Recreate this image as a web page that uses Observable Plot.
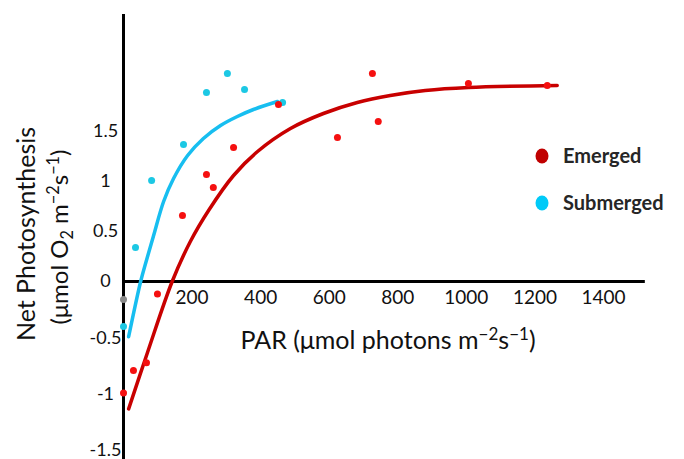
<!DOCTYPE html>
<html><head><meta charset="utf-8">
<script src="https://cdn.jsdelivr.net/npm/d3@7"></script>
<script src="https://cdn.jsdelivr.net/npm/@observablehq/plot@0.6"></script>
<style>body{margin:0;background:#fff;} svg{display:block}</style>
</head><body><div id="chart"></div>
<script>
// Measured points
const emergedPAR = [0, 29, 67, 99, 172, 242, 262, 321, 452, 624, 726, 743, 1006, 1236];
const emergedNP  = [-0.99, -0.79, -0.72, -0.11, 0.66, 1.07, 0.94, 1.34, 1.77, 1.44, 2.08, 1.60, 1.98, 1.96];
const submergedPAR = [0, 35, 82, 175, 242, 303, 353, 464];
const submergedNP  = [-0.40, 0.34, 1.01, 1.37, 1.89, 2.08, 1.92, 1.79];
const grayPAR = [0];
const grayNP = [-0.16];
// Fitted light-response curves
const emergedFitPAR = [15, 70, 142, 195, 250, 321, 391, 487, 583, 682, 778, 880, 1006, 1265];
const emergedFitNP  = [-1.13, -0.63, 0, 0.40, 0.72, 1.06, 1.30, 1.53, 1.68, 1.79, 1.86, 1.91, 1.94, 1.96];
const submergedFitPAR = [15, 50, 66, 87, 117, 146, 187, 233, 283, 332, 379, 449];
const submergedFitNP  = [-0.49, 0, 0.20, 0.45, 0.80, 1.03, 1.26, 1.43, 1.56, 1.65, 1.72, 1.80];
// Ticks
const xTicks = [200, 400, 600, 800, 1000, 1200, 1400];
const yTicks = [1.5, 1, 0.5, 0, -0.5, -1, -1.5];
const legendLabels = ["Emerged", "Submerged"];

const zip = (xs, ys) => xs.map((x, i) => ({x, y: ys[i]}));
const emerged = zip(emergedPAR, emergedNP);
const submerged = zip(submergedPAR, submergedNP);
const gray = zip(grayPAR, grayNP);
const emergedFit = zip(emergedFitPAR, emergedFitNP);
const submergedFit = zip(submergedFitPAR, submergedFitNP);

const FONT = "Lato, 'Open Sans', sans-serif";

const plot = Plot.plot({
  width: 684,
  height: 459,
  marginLeft: 123,
  marginRight: 81,
  marginTop: 0,
  marginBottom: 0,
  style: {fontFamily: FONT, background: "#fff"},
  x: {domain: [0, 1400], axis: null},
  // the original axis is drawn with a slightly taller unit below zero
  y: {transform: v => v < 0 ? v * 1.127 : v, domain: [-1.69, 1.5], range: [450, 131], axis: null},
  marks: [
    Plot.ruleX([0], {y1: -1.6, y2: 2.67, stroke: "#000", strokeWidth: 3}),
    Plot.ruleY([0], {x1: 0, x2: 1522, stroke: "#000", strokeWidth: 3}),
    Plot.line(submergedFit, {x: "x", y: "y", curve: "catmull-rom", stroke: "#17BEF0", strokeWidth: 3.5}),
    Plot.line(emergedFit, {x: "x", y: "y", curve: "catmull-rom", stroke: "#C80000", strokeWidth: 3.5}),
    Plot.dot(submerged, {x: "x", y: "y", r: 3.5, fill: "#1CC8E4"}),
    Plot.dot(emerged, {x: "x", y: "y", r: 3.5, fill: "#F51010"}),
    Plot.dot(gray, {x: "x", y: "y", r: 3.5, fill: "#8a8a8a"}),
    Plot.text(xTicks, {x: d => d, y: 0, dy: 16, text: d => String(d), fontSize: 19, fill: "#111", textAnchor: "middle"}),
    Plot.text(yTicks, {x: 0, y: d => d, dx: -18, text: d => String(d), fontSize: 18, fill: "#111", textAnchor: "middle"})
  ]
});
document.getElementById("chart").appendChild(plot);

const svg = d3.select(plot);
function richText(g, parts, size) {
  const t = g.append("text").attr("font-family", FONT).attr("font-size", size).attr("fill", "#111").attr("text-anchor", "middle");
  let shift = 0;
  for (const p of parts) {
    const s = t.append("tspan").text(p.t);
    const target = p.sup ? -0.38 * size : p.sub ? 0.22 * size : 0;
    if (target !== shift) { s.attr("dy", target - shift); shift = target; }
    if (p.sup || p.sub) s.attr("font-size", size * 0.68);
  }
  return t;
}
// x title
richText(svg.append("g").attr("transform", "translate(388,349)"),
  [{t: "PAR (μmol photons m"}, {t: "−2", sup: true}, {t: "s"}, {t: "−1", sup: true}, {t: ")"}], 25);
// y title
richText(svg.append("g").attr("transform", "translate(35,234) rotate(-90)"),
  [{t: "Net Photosynthesis"}], 25);
richText(svg.append("g").attr("transform", "translate(68,237) rotate(-90)"),
  [{t: "(μmol O"}, {t: "2", sub: true}, {t: " m"}, {t: "−2", sup: true}, {t: "s"}, {t: "−1", sup: true}, {t: ")"}], 24);
// legend
const legendColors = ["#C00000", "#00CAF8"];
const lg = svg.append("g");
legendLabels.forEach((lab, i) => {
  const cy = 156 + i * 47;
  lg.append("ellipse").attr("cx", 542).attr("cy", cy).attr("rx", 6.5).attr("ry", 7.5).attr("fill", legendColors[i]);
  lg.append("text").attr("x", 563).attr("y", cy).attr("dy", "0.35em").attr("text-anchor", "start").attr("font-family", FONT)
    .attr("font-weight", "bold").attr("font-size", 20).attr("fill", "#262626").text(lab);
});
</script>
</body></html>
